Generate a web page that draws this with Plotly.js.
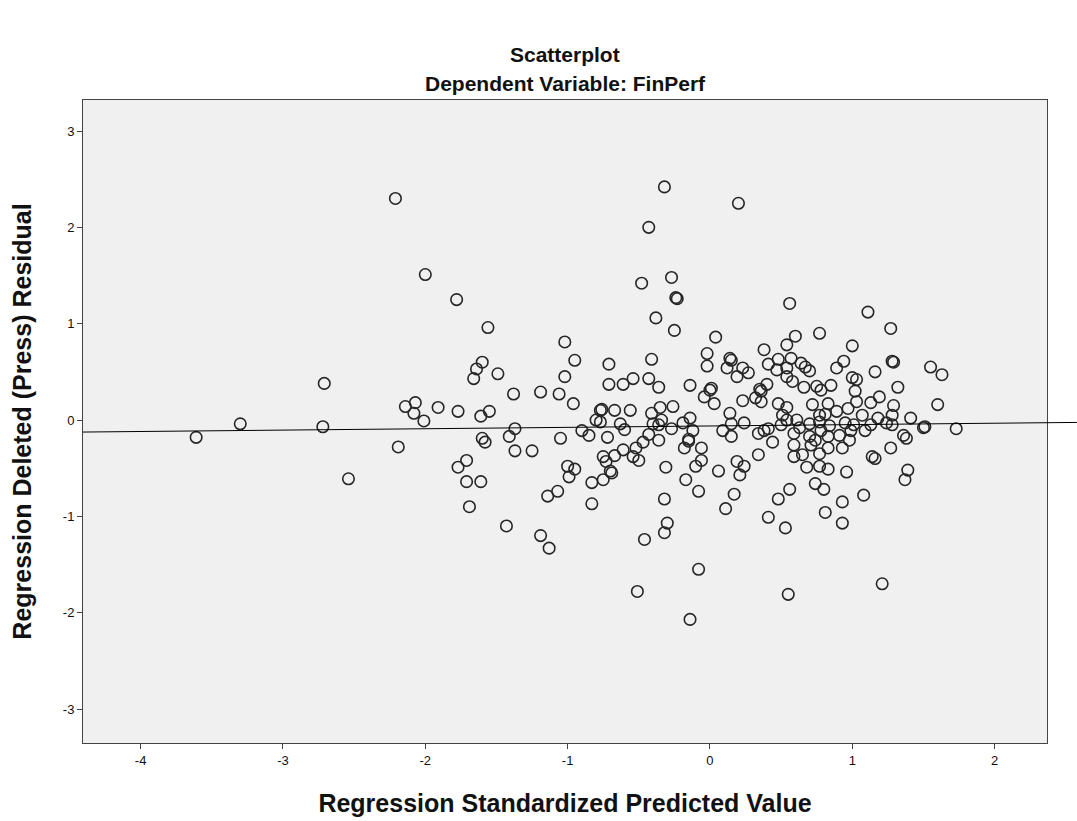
<!DOCTYPE html>
<html>
<head>
<meta charset="utf-8">
<script src="https://cdn.plot.ly/plotly-3.0.1.min.js"></script>
<style>html,body{margin:0;padding:0;background:#fff;}#chart{width:1077px;height:821px;}</style>
</head>
<body>
<div id="chart"></div>
<script>
// Regression standardized predicted value (x) and deleted (press) residual (y)
var predicted = [
 -3.61,-3.30,-2.71,-2.72,-2.54,-2.21,-2.19,-2.14,-2.07,-2.08,-2.01,-2.00,-1.78,-1.56,-1.02,-0.95,-1.60,-1.64,-1.66,-1.49,
 -0.71,-1.02,-0.71,-1.38,-1.19,-1.06,-0.96,-1.91,-1.77,-1.61,-1.55,-0.77,-0.76,-0.80,-0.77,-1.37,-1.41,-1.60,-1.58,-1.05,
 -0.90,-0.85,-0.72,-1.37,-1.25,-1.71,-1.77,-0.75,-1.00,-0.95,-0.73,-1.71,-1.61,-1.69,-1.43,-1.19,-1.13,-1.14,-1.07,-0.99,
 -0.83,-0.83,-0.75,-0.69,-0.70,-0.31,-0.10,0.06,0.21,0.24,-0.17,-0.08,-0.32,0.17,0.11,-0.30,-0.32,-0.46,-0.08,-0.51,
 -0.14,0.48,0.41,0.53,0.55,1.21,0.56,0.74,0.80,0.81,0.93,0.93,1.08,0.96,0.83,0.68,0.77,1.39,1.37,
 -0.32,0.20,-0.43,-0.48,-0.27,-0.23,-0.24,-0.38,-0.25,0.04,0.56,1.11,1.27,0.77,0.60,
 -0.41,-0.02,-0.02,0.14,0.12,0.15,0.19,0.23,0.27,0.38,0.41,0.48,0.47,0.54,0.54,
 -0.61,-0.54,-0.43,-0.36,-0.14,0.01,0.00,-0.04,0.03,0.23,0.32,0.35,0.36,0.40,0.36,0.48,0.51,
 -0.67,-0.56,-0.41,-0.35,-0.26,-0.34,-0.36,-0.40,-0.63,-0.60,-0.43,-0.36,-0.47,-0.27,-0.19,-0.14,-0.12,-0.15,-0.15,-0.18,
 -0.06,-0.06,-0.52,-0.54,-0.50,-0.61,-0.67,0.14,0.15,0.09,0.15,0.24,0.34,0.38,0.41,0.44,0.50,0.34,0.19,
 0.57,0.54,0.64,0.67,0.70,0.94,0.89,1.29,1.28,1.16,1.55,1.63,1.00,0.58,0.66,0.75,0.78,0.85,1.00,1.03,1.02,1.32,1.60,
 0.54,0.72,0.83,1.03,1.13,1.19,1.29,0.97,0.89,0.54,0.77,0.81,1.07,1.18,1.28,1.41,
 0.70,0.77,0.84,0.95,1.01,1.13,1.24,1.28,1.51,1.50,1.73,
 0.59,0.70,0.78,0.83,0.91,0.99,1.09,1.36,1.38,0.59,0.71,0.83,0.93,0.98,1.27,0.59,0.77,1.14,1.16,
 0.63,0.74,0.65,0.61
];
var residual = [
 -0.18,-0.04,0.38,-0.07,-0.61,2.30,-0.28,0.14,0.18,0.07,-0.01,1.51,1.25,0.96,0.81,0.62,0.60,0.53,0.43,0.48,
 0.58,0.45,0.37,0.27,0.29,0.27,0.17,0.13,0.09,0.04,0.09,0.10,0.11,0.00,-0.02,-0.09,-0.17,-0.19,-0.23,-0.19,
 -0.11,-0.16,-0.18,-0.32,-0.32,-0.42,-0.49,-0.38,-0.48,-0.51,-0.43,-0.64,-0.64,-0.90,-1.10,-1.20,-1.33,-0.79,-0.74,-0.59,
 -0.65,-0.87,-0.62,-0.55,-0.53,-0.49,-0.48,-0.53,-0.57,-0.48,-0.62,-0.74,-0.82,-0.77,-0.92,-1.07,-1.17,-1.24,-1.55,-1.78,
 -2.07,-0.82,-1.01,-1.12,-1.81,-1.70,-0.72,-0.66,-0.72,-0.96,-0.85,-1.07,-0.78,-0.54,-0.51,-0.49,-0.48,-0.52,-0.62,
 2.42,2.25,2.00,1.42,1.48,1.26,1.27,1.06,0.93,0.86,1.21,1.12,0.95,0.90,0.87,
 0.63,0.69,0.56,0.64,0.54,0.62,0.45,0.54,0.49,0.73,0.58,0.63,0.52,0.78,0.45,
 0.37,0.43,0.43,0.34,0.36,0.33,0.31,0.24,0.17,0.20,0.23,0.32,0.30,0.37,0.19,0.17,0.05,
 0.10,0.10,0.07,0.13,0.14,0.00,-0.05,-0.04,-0.04,-0.10,-0.15,-0.21,-0.23,-0.09,-0.03,0.02,-0.11,-0.20,-0.22,-0.29,
 -0.29,-0.42,-0.29,-0.38,-0.42,-0.31,-0.37,0.07,-0.04,-0.11,-0.17,-0.03,-0.14,-0.11,-0.09,-0.23,-0.05,-0.36,-0.43,
 0.64,0.54,0.59,0.55,0.51,0.61,0.54,0.60,0.61,0.50,0.55,0.47,0.77,0.40,0.34,0.35,0.31,0.36,0.44,0.42,0.30,0.34,0.16,
 0.13,0.16,0.17,0.19,0.18,0.24,0.15,0.12,0.09,0.00,0.05,0.06,0.05,0.02,0.05,0.02,
 -0.04,-0.02,-0.06,-0.03,-0.05,-0.05,-0.03,-0.05,-0.07,-0.08,-0.09,
 -0.14,-0.17,-0.11,-0.17,-0.16,-0.11,-0.11,-0.16,-0.19,-0.26,-0.26,-0.29,-0.29,-0.21,-0.29,-0.38,-0.35,-0.38,-0.40,
 -0.08,-0.21,-0.36,0.00
];
// Fit line (intercept, slope) and axis ticks
var FIT_INTERCEPT = -0.062;
var FIT_SLOPE = 0.0143;
var xTicks = [-4, -3, -2, -1, 0, 1, 2];
var yTicks = [-3, -2, -1, 0, 1, 2, 3];

var xRange = [-4.405, 2.368];
var yRange = [-3.353, 3.322];
var lineEndPaper = 1.031; // line runs past the right frame edge
var xStart = xRange[0];
var xEnd = xRange[0] + lineEndPaper * (xRange[1] - xRange[0]);

var trace = {
  x: predicted, y: residual, type: 'scatter', mode: 'markers',
  marker: {symbol: 'circle-open', size: 11.5, color: '#262626', line: {width: 1.6, color: '#262626'}},
  hoverinfo: 'x+y', showlegend: false
};

var font = 'Arial, "Liberation Sans", sans-serif';
var layout = {
  width: 1077, height: 821,
  margin: {l: 83, r: 30, t: 100, b: 78},
  paper_bgcolor: '#ffffff', plot_bgcolor: '#f0f0f0',
  font: {family: font, color: '#000'},
  xaxis: {
    range: xRange, tickvals: xTicks, ticktext: xTicks.map(String),
    showgrid: false, zeroline: false, showline: true, mirror: true,
    linecolor: '#444', linewidth: 1, ticks: 'outside', ticklen: 5, tickcolor: '#444',
    tickfont: {size: 13, family: font, color: '#111'},
    title: {text: '<b>Regression Standardized Predicted Value</b>', font: {size: 25, family: font, color: '#111'}, standoff: 27}
  },
  yaxis: {
    range: yRange, tickvals: yTicks, ticktext: yTicks.map(String),
    showgrid: false, zeroline: false, showline: true, mirror: true,
    linecolor: '#444', linewidth: 1, ticks: 'outside', ticklen: 5, tickcolor: '#444',
    tickfont: {size: 13, family: font, color: '#111'},
    title: {text: '<b>Regression Deleted (Press) Residual</b>', font: {size: 25, family: font, color: '#111'}, standoff: 24}
  },
  shapes: [{
    type: 'line', xref: 'paper', yref: 'y',
    x0: 0, x1: lineEndPaper,
    y0: FIT_INTERCEPT + FIT_SLOPE * xStart,
    y1: FIT_INTERCEPT + FIT_SLOPE * xEnd,
    line: {color: '#000', width: 1}
  }],
  annotations: [
    {text: '<b>Scatterplot</b>', xref: 'paper', yref: 'paper', x: 0.5, y: 1.070, yanchor: 'middle', showarrow: false,
     font: {size: 21, family: font, color: '#111'}},
    {text: '<b>Dependent Variable: FinPerf</b>', xref: 'paper', yref: 'paper', x: 0.5, y: 1.0264, yanchor: 'middle', showarrow: false,
     font: {size: 21, family: font, color: '#111'}}
  ]
};

Plotly.newPlot('chart', [trace], layout, {displayModeBar: false, staticPlot: true});
</script>
</body>
</html>
